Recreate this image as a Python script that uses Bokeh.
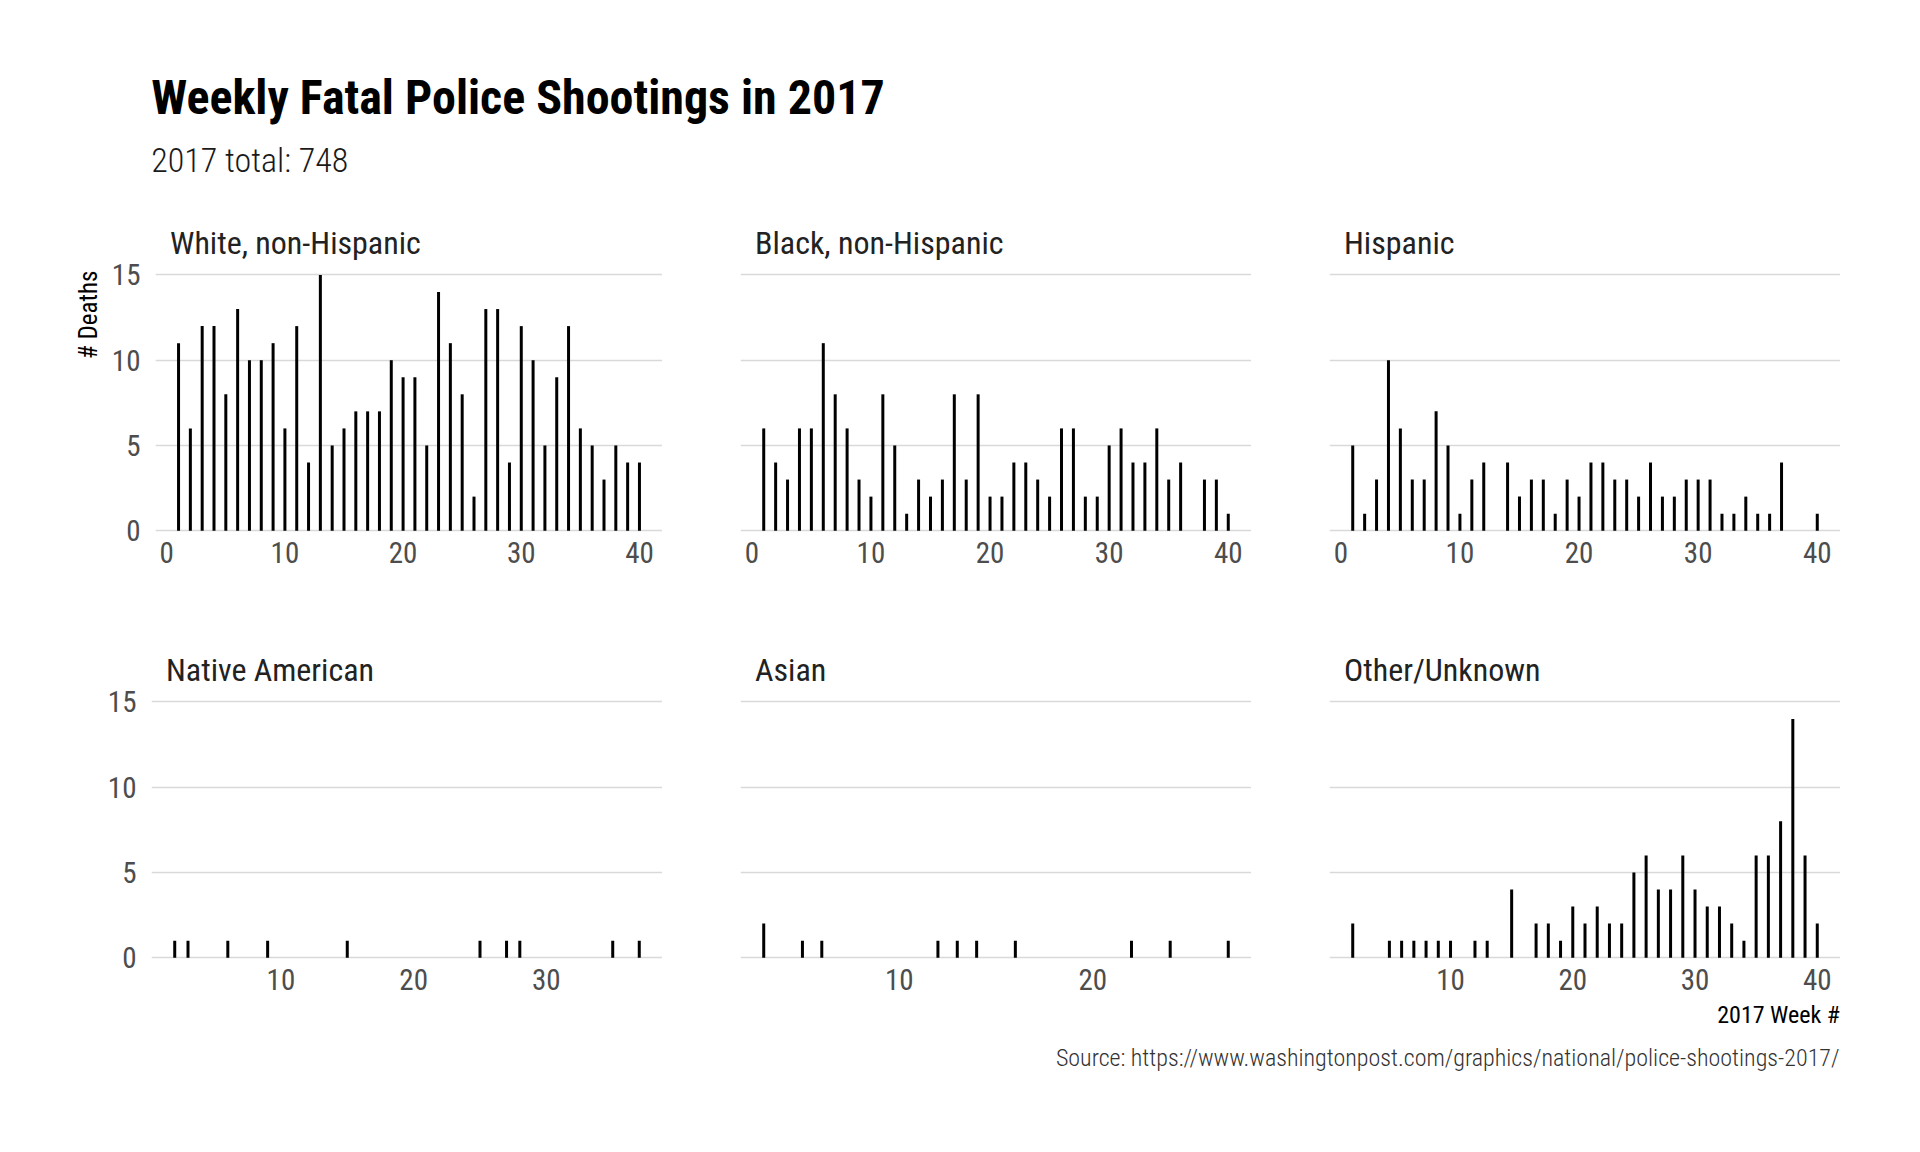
from bokeh.plotting import figure
from bokeh.layouts import column, row
from bokeh.models import Range1d, SingleIntervalTicker, FixedTicker
from bokeh.core.properties import value
from bokeh.embed import file_html
from bokeh.resources import INLINE

# weekly fatal police shootings in 2017, by race (week number -> deaths)
white_weeks = [1, 2, 3, 4, 5, 6, 7, 8, 9, 10, 11, 12, 13, 14, 15, 16, 17, 18, 19, 20,
               21, 22, 23, 24, 25, 26, 27, 28, 29, 30, 31, 32, 33, 34, 35, 36, 37, 38, 39, 40]
white_deaths = [11, 6, 12, 12, 8, 13, 10, 10, 11, 6, 12, 4, 15, 5, 6, 7, 7, 7, 10, 9,
                9, 5, 14, 11, 8, 2, 13, 13, 4, 12, 10, 5, 9, 12, 6, 5, 3, 5, 4, 4]

black_weeks = [1, 2, 3, 4, 5, 6, 7, 8, 9, 10, 11, 12, 13, 14, 15, 16, 17, 18, 19, 20,
               21, 22, 23, 24, 25, 26, 27, 28, 29, 30, 31, 32, 33, 34, 35, 36, 38, 39, 40]
black_deaths = [6, 4, 3, 6, 6, 11, 8, 6, 3, 2, 8, 5, 1, 3, 2, 3, 8, 3, 8, 2,
                2, 4, 4, 3, 2, 6, 6, 2, 2, 5, 6, 4, 4, 6, 3, 4, 3, 3, 1]

hispanic_weeks = [1, 2, 3, 4, 5, 6, 7, 8, 9, 10, 11, 12, 14, 15, 16, 17, 18, 19, 20,
                  21, 22, 23, 24, 25, 26, 27, 28, 29, 30, 31, 32, 33, 34, 35, 36, 37, 40]
hispanic_deaths = [5, 1, 3, 10, 6, 3, 3, 7, 5, 1, 3, 4, 4, 2, 3, 3, 1, 3, 2,
                   4, 4, 3, 3, 2, 4, 2, 2, 3, 3, 3, 1, 1, 2, 1, 1, 4, 1]

native_weeks = [2, 3, 6, 9, 15, 25, 27, 28, 35, 37]
native_deaths = [1, 1, 1, 1, 1, 1, 1, 1, 1, 1]

asian_weeks = [3, 5, 6, 12, 13, 14, 16, 22, 24, 27]
asian_deaths = [2, 1, 1, 1, 1, 1, 1, 1, 1, 1]

other_weeks = [2, 5, 6, 7, 8, 9, 10, 12, 13, 15, 17, 18, 19, 20, 21, 22, 23, 24, 25,
               26, 27, 28, 29, 30, 31, 32, 33, 34, 35, 36, 37, 38, 39, 40]
other_deaths = [2, 1, 1, 1, 1, 1, 1, 1, 1, 4, 2, 2, 1, 3, 2, 3, 2, 2, 5,
                6, 4, 4, 6, 4, 3, 3, 2, 1, 6, 6, 8, 14, 6, 2]

panel_names = ["White, non-Hispanic", "Black, non-Hispanic", "Hispanic",
               "Native American", "Asian", "Other/Unknown"]
y_ticks = [0, 5, 10, 15]

title_text = "Weekly Fatal Police Shootings in 2017"
subtitle_text = "2017 total: %d" % sum(white_deaths + black_deaths + hispanic_deaths +
                                        native_deaths + asian_deaths + other_deaths)
caption_text = "Source: https://www.washingtonpost.com/graphics/national/police-shootings-2017/"

FONT = "Roboto Condensed, Liberation Sans Narrow, Roboto"
LIGHT = "Roboto Condensed Light, Liberation Sans Narrow, Roboto Light, Roboto"

# layout in pixels
TOTAL_W = 1840
GUTTER = 108
FRAME_W = 511
FRAME_H = 321
PX_PER_UNIT = 17.05
Y0 = -0.75
Y1 = Y0 + FRAME_H / PX_PER_UNIT
HEADER_H = 222
ROW1_BOTTOM = 106
ROW2_BOTTOM = 28
FOOTER_H = 100


def blank(width, height):
    p = figure(width=width, height=height, x_range=Range1d(0, width), y_range=Range1d(0, height),
               output_backend="svg", toolbar_location=None, min_border=0, title=None)
    p.axis.visible = False
    p.grid.visible = False
    p.outline_line_color = None
    return p


def panel(name, weeks, deaths, left_border, bottom_border, show_y):
    lo, hi = min(weeks), max(weeks)
    pad = 0.05 * (hi - lo)
    p = figure(width=left_border + FRAME_W, height=FRAME_H + bottom_border,
               x_range=Range1d(lo - pad, hi + pad), y_range=Range1d(Y0, Y1),
               output_backend="svg", toolbar_location=None, title=None,
               min_border_left=left_border, min_border_right=0,
               min_border_top=0, min_border_bottom=bottom_border)
    p.outline_line_color = None
    p.background_fill_color = "white"
    p.border_fill_color = "white"

    p.segment(x0=weeks, y0=[0] * len(weeks), x1=weeks, y1=deaths,
              line_color="black", line_width=3)

    p.text(x=[lo - pad], y=[Y1], text=[name], x_offset=14.5, y_offset=20.5,
           text_font=value(FONT), text_font_size="32px", text_color="#222222",
           text_align="left", text_baseline="alphabetic")

    p.xgrid.visible = False
    p.ygrid.ticker = FixedTicker(ticks=y_ticks)
    p.ygrid.grid_line_color = "#d9d9d9"
    p.ygrid.grid_line_width = 1.3

    p.xaxis.ticker = SingleIntervalTicker(interval=10, num_minor_ticks=0)
    p.yaxis.ticker = FixedTicker(ticks=y_ticks)
    for ax in [p.xaxis[0], p.yaxis[0]]:
        ax.axis_line_color = None
        ax.major_tick_line_color = None
        ax.minor_tick_line_color = None
        ax.major_label_text_font = FONT
        ax.major_label_text_font_size = "29px"
        ax.major_label_text_color = "#4d4d4d"
    p.xaxis.major_label_standoff = -8
    p.yaxis.major_label_standoff = 9
    p.yaxis.visible = show_y
    return p


# header with title and subtitle
header = blank(TOTAL_W, HEADER_H)
header.text(x=[150.7], y=[HEADER_H - 97.2], text=[title_text], text_font=value(FONT),
            text_font_size="48px", text_font_style="bold", text_color="black",
            text_baseline="alphabetic")
header.text(x=[150.7], y=[HEADER_H - 159.4], text=[subtitle_text], text_font=value(LIGHT),
            text_font_size="34px", text_color="#1a1a1a", text_baseline="alphabetic")

# gutter with the y axis title
row1_h = FRAME_H + ROW1_BOTTOM
gutter = blank(GUTTER, row1_h)
gutter.text(x=[87.5], y=[row1_h - 64], text=["# Deaths"], angle=1.5708,
            text_font=value(FONT), text_font_size="25px", text_color="black",
            text_align="right", text_baseline="middle")

p1 = panel(panel_names[0], white_weeks, white_deaths, 151 - GUTTER, ROW1_BOTTOM, True)
p2 = panel(panel_names[1], black_weeks, black_deaths, 78, ROW1_BOTTOM, False)
p3 = panel(panel_names[2], hispanic_weeks, hispanic_deaths, 78, ROW1_BOTTOM, False)
p4 = panel(panel_names[3], native_weeks, native_deaths, 151, ROW2_BOTTOM, True)
p5 = panel(panel_names[4], asian_weeks, asian_deaths, 78, ROW2_BOTTOM, False)
p6 = panel(panel_names[5], other_weeks, other_deaths, 78, ROW2_BOTTOM, False)

# footer with x axis title and source
footer = blank(TOTAL_W, FOOTER_H)
footer.text(x=[1839.5], y=[FOOTER_H - 16], text=["2017 Week #"], text_font=value(FONT),
            text_font_size="24px", text_color="black", text_align="right",
            text_baseline="alphabetic")
footer.text(x=[1839], y=[FOOTER_H - 59.5], text=[caption_text], text_font=value(LIGHT),
            text_font_size="24px", text_color="#333333", text_align="right",
            text_baseline="alphabetic")

layout = column(header, row(gutter, p1, p2, p3), row(p4, p5, p6), footer)

open("out.html", "w").write(file_html(layout, INLINE))
